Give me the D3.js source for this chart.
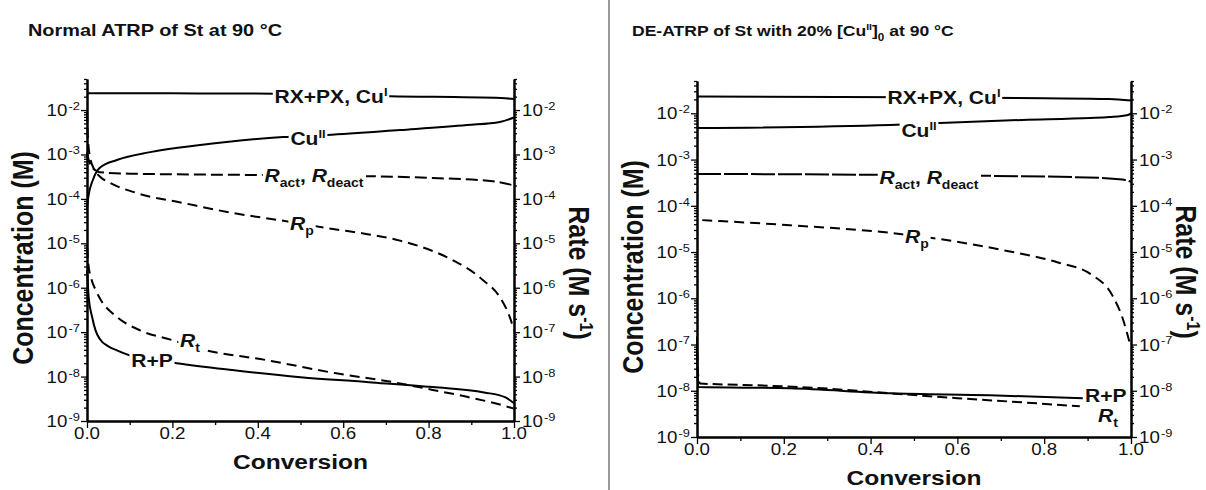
<!DOCTYPE html>
<html>
<head>
<meta charset="UTF-8">
<title>ATRP of St at 90 C</title>
<script src="https://cdn.jsdelivr.net/npm/d3@7"></script>
<style>
  body { margin: 0; background: #fff; }
  svg text { font-family: "Liberation Sans", Arial, sans-serif; fill: #111; }
</style>
</head>
<body>
<svg id="chart" width="1206" height="490"></svg>
<script>
// ---- data: [conversion, value] ----
const convTicks = [0, 0.2, 0.4, 0.6, 0.8, 1.0];
const convMinor = [0.1, 0.3, 0.5, 0.7, 0.9];
const decades = [-9, -8, -7, -6, -5, -4, -3, -2];

// normal ATRP
const normalRX = [[0, 0.024], [0.2, 0.0238], [0.44, 0.0234], [0.71, 0.0205], [0.97, 0.0187], [1.0, 0.0177]];
const normalCu2 = [[0, 6e-5], [0.003, 1.1e-4], [0.014, 2.7e-4], [0.03, 5.0e-4], [0.07, 7.5e-4], [0.148, 1.13e-3],
  [0.265, 1.63e-3], [0.459, 2.47e-3], [0.562, 2.74e-3], [0.733, 3.55e-3], [0.89, 4.6e-3], [0.967, 5.4e-3], [1.0, 6.8e-3]];
const normalRact = [[0, 1.1e-3], [0.004, 7.5e-4], [0.01, 5.5e-4], [0.02, 4.4e-4], [0.03, 4.0e-4], [0.1, 3.7e-4],
  [0.4, 3.45e-4], [0.64, 3.27e-4], [0.81, 2.95e-4], [0.95, 2.5e-4], [1.0, 2.0e-4]];
const normalRp = [[0.0003, 9e-3], [0.001, 4e-3], [0.003, 1.8e-3], [0.008, 8e-4], [0.016, 4.8e-4], [0.03, 3.2e-4],
  [0.054, 2.3e-4], [0.117, 1.35e-4], [0.225, 8.1e-5], [0.342, 4.8e-5], [0.452, 3.3e-5], [0.576, 2.1e-5],
  [0.65, 1.65e-5], [0.733, 1.15e-5], [0.78, 8.5e-6], [0.85, 4.5e-6], [0.927, 1.5e-6], [0.967, 6.1e-7],
  [0.99, 2.2e-7], [1.0, 1.1e-7]];
const normalRt = [[0.0005, 8e-6], [0.003, 3.5e-6], [0.01, 1.6e-6], [0.02, 9e-7], [0.03, 5.8e-7], [0.07, 2.2e-7],
  [0.124, 1.1e-7], [0.2, 6.6e-8], [0.27, 4.1e-8], [0.42, 2.35e-8], [0.58, 1.2e-8], [0.73, 7.1e-9],
  [0.81, 5.0e-9], [0.89, 3.5e-9], [0.97, 2.3e-9], [1.0, 1.9e-9]];
const normalRP = [[0.0005, 2.5e-6], [0.004, 6e-7], [0.012, 2.2e-7], [0.02, 1.1e-7], [0.03, 7e-8], [0.05, 4.8e-8],
  [0.07, 3.9e-8], [0.1, 3.0e-8], [0.21, 2.0e-8], [0.34, 1.4e-8], [0.5, 9.7e-9], [0.66, 7.5e-9],
  [0.81, 5.8e-9], [0.93, 4.4e-9], [0.98, 3.4e-9], [1.0, 2.5e-9]];

// DE-ATRP with 20% Cu(II)
const deRX = [[0, 0.023], [0.5, 0.0222], [0.8, 0.0212], [0.95, 0.0205], [1.0, 0.019]];
const deCu2 = [[0, 4.8e-3], [0.445, 5.6e-3], [0.56, 6.2e-3], [0.75, 7.2e-3], [0.906, 7.9e-3], [0.95, 8.3e-3],
  [0.993, 9.2e-3], [1.0, 1.0e-2]];
const deRact = [[0, 4.9e-4], [0.5, 4.6e-4], [0.9, 4.1e-4], [0.98, 3.7e-4], [1.0, 3.3e-4]];
const deRp = [[0.012, 4.9e-5], [0.214, 3.8e-5], [0.445, 2.6e-5], [0.56, 1.9e-5], [0.705, 1.1e-5], [0.83, 6.0e-6],
  [0.91, 3.2e-6], [0.956, 1.2e-6], [0.982, 3.4e-7], [0.998, 1.0e-7]];
const deRP = [[0, 1.0e-7], [0.001, 3e-8], [0.003, 1.2e-8], [0.214, 1.13e-8], [0.445, 8.8e-9], [0.675, 8.0e-9], [0.889, 6.9e-9]];
const deRt = [[0, 1.5e-7], [0.002, 2.5e-8], [0.007, 1.44e-8], [0.138, 1.31e-8], [0.29, 1.13e-8], [0.445, 8.8e-9],
  [0.6, 6.9e-9], [0.751, 5.6e-9], [0.882, 4.6e-9]];

const panels = [
  {
    title: [{t: 'Normal ATRP of St at 90 °C'}], tx: 28, tsize: 17,
    x0: 87, x1: 514, yTop: 79, yBot: 421, rateDx: 55, rateDy: 23,
    series: [
      {data: normalRX}, {data: normalCu2}, {data: normalRact, dash: '12,5'},
      {data: normalRp, dash: '10,6'}, {data: normalRt, dash: '10,6'}, {data: normalRP}
    ],
    labels: [
      {parts: [{t: 'RX+PX, Cu'}, {t: 'I', sup: 1}], x: 331, y: 103},
      {parts: [{t: 'Cu'}, {t: 'II', sup: 1}], x: 308, y: 145},
      {parts: [{t: 'R', it: 1}, {t: 'act', sub: 1}, {t: ', '}, {t: 'R', it: 1}, {t: 'deact', sub: 1}], x: 314, y: 182},
      {parts: [{t: 'R', it: 1}, {t: 'p', sub: 1}], x: 302, y: 230},
      {parts: [{t: 'R', it: 1}, {t: 't', sub: 1}], x: 190, y: 347},
      {parts: [{t: 'R+P'}], x: 152, y: 367}
    ]
  },
  {
    title: [{t: 'DE-ATRP of St with 20% [Cu'}, {t: 'II', sup: 1}, {t: ']'}, {t: '0', sub: 1}, {t: ' at 90 °C'}],
    tx: 632, tsize: 15,
    x0: 697, x1: 1131, yTop: 81, yBot: 437, rateDx: 45, rateDy: 13,
    series: [
      {data: deRX}, {data: deCu2}, {data: deRact, dash: '24,3'},
      {data: deRp, dash: '10,6'}, {data: deRP}, {data: deRt, dash: '10,5'}
    ],
    labels: [
      {parts: [{t: 'RX+PX, Cu'}, {t: 'I', sup: 1}], x: 944, y: 104},
      {parts: [{t: 'Cu'}, {t: 'II', sup: 1}], x: 919, y: 137},
      {parts: [{t: 'R', it: 1}, {t: 'act', sub: 1}, {t: ', '}, {t: 'R', it: 1}, {t: 'deact', sub: 1}], x: 929, y: 184},
      {parts: [{t: 'R', it: 1}, {t: 'p', sub: 1}], x: 917, y: 243},
      {parts: [{t: 'R+P'}], x: 1085, y: 402, anchor: 'start'},
      {parts: [{t: 'R', it: 1}, {t: 't', sub: 1}], x: 1108, y: 422}
    ]
  }
];

const SX = 1.17; // the picture is a little wider than tall
const svg = d3.select('#chart');

// text with super/subscripts, drawn inside a slightly stretched group
function richText(parent, parts, x, y, size, opts = {}) {
  const sx = opts.sx == null ? SX : opts.sx;
  const g = parent.append('g').attr('transform', `translate(${x},${y}) scale(${sx},1)`);
  const t = g.append('text')
    .attr('text-anchor', opts.anchor || 'middle')
    .style('font-size', size + 'px')
    .style('font-weight', opts.weight || 'bold');
  let shift = 0;
  parts.forEach(p => {
    let target = 0;
    const s = t.append('tspan').text(p.t);
    if (p.sup) { target = -size * 0.38; s.style('font-size', Math.round(size * (opts.supScale || 0.62)) + 'px'); }
    if (p.sub) { target = size * 0.3; s.style('font-size', Math.round(size * 0.65) + 'px'); }
    if (p.it) s.style('font-style', 'italic');
    if (p.dx) s.attr('dx', p.dx);
    if (target !== shift) s.attr('dy', target - shift);
    shift = target;
  });
  return g;
}

// divider between panels
svg.append('line')
  .attr('x1', 609).attr('x2', 609).attr('y1', 0).attr('y2', 490)
  .attr('stroke', '#9a9a9a').attr('stroke-width', 2);

panels.forEach(p => {
  const g = svg.append('g');
  const x = d3.scaleLinear().domain([0, 1]).range([p.x0, p.x1]);
  const y = d3.scaleLog().domain([1e-9, 5e-2]).range([p.yBot, p.yTop]);

  const majors = decades.map(e => Math.pow(10, e));
  const minors = [];
  for (let e = -9; e <= -2; e++) {
    for (let m = 2; m <= 9; m++) {
      const v = m * Math.pow(10, e);
      if (v <= 5e-2) minors.push(v);
    }
  }

  // title
  richText(g, p.title, p.tx, 36, p.tsize, {anchor: 'start'});

  // curves
  const line = d3.line()
    .x(d => x(d[0]))
    .y(d => y(d[1]))
    .curve(d3.curveMonotoneX);

  g.selectAll('path.curve')
    .data(p.series)
    .join('path')
    .attr('class', 'curve')
    .attr('d', d => line(d.data))
    .attr('fill', 'none')
    .attr('stroke', '#000')
    .attr('stroke-width', 2)
    .attr('stroke-dasharray', d => d.dash || null);

  // axes
  const axisStyle = sel => {
    sel.select('.domain').attr('stroke-width', 2).attr('stroke', '#000');
    sel.selectAll('.tick line').attr('stroke-width', 1.3).attr('stroke', '#000');
  };

  g.append('g').attr('transform', `translate(${p.x0},0)`)
    .call(d3.axisLeft(y).tickValues(minors).tickSize(3).tickSizeOuter(0).tickFormat(''))
    .call(axisStyle);
  g.append('g').attr('transform', `translate(${p.x0},0)`)
    .call(d3.axisLeft(y).tickValues(majors).tickSize(6).tickSizeOuter(0).tickFormat(''))
    .call(axisStyle);
  g.append('g').attr('transform', `translate(${p.x1},0)`)
    .call(d3.axisRight(y).tickValues(minors).tickSize(3).tickSizeOuter(0).tickFormat(''))
    .call(axisStyle);
  g.append('g').attr('transform', `translate(${p.x1},0)`)
    .call(d3.axisRight(y).tickValues(majors).tickSize(6).tickSizeOuter(0).tickFormat(''))
    .call(axisStyle);

  g.append('g').attr('transform', `translate(0,${p.yBot})`)
    .call(d3.axisBottom(x).tickValues(convMinor).tickSize(4).tickSizeOuter(0).tickFormat(''))
    .call(axisStyle);
  g.append('g').attr('transform', `translate(0,${p.yBot})`)
    .call(d3.axisBottom(x).tickValues(convTicks).tickSize(7).tickSizeOuter(0).tickFormat(''))
    .call(axisStyle);

  const fmt = d3.format('.1f');
  convTicks.forEach(c => {
    richText(g, [{t: fmt(c)}], x(c), p.yBot + 18, 16, {weight: 'normal'});
  });

  // decade labels, both sides
  decades.forEach(e => {
    const parts = [{t: '10'}, {t: String(e), sup: 1, dx: 1}];
    const yy = y(Math.pow(10, e)) + 6;
    richText(g, parts, p.x0 - 7, yy, 16, {anchor: 'end', weight: 'normal', supScale: 0.68});
    richText(g, parts, p.x1 + 8, yy, 16, {anchor: 'start', weight: 'normal', supScale: 0.68});
  });

  // axis titles
  const cy = (p.yTop + p.yBot) / 2;
  richText(g, [{t: 'Conversion'}], (p.x0 + p.x1) / 2, p.yBot + 48, 21);

  const lt = g.append('g')
    .attr('transform', `translate(${p.x0 - 54},${cy + 8}) scale(${SX},1) rotate(-90)`);
  richText(lt, [{t: 'Concentration (M)'}], 0, 0, 25, {sx: 1});

  const rt = g.append('g')
    .attr('transform', `translate(${p.x1 + p.rateDx},${cy + p.rateDy}) scale(${SX},1) rotate(90)`);
  richText(rt, [{t: 'Rate (M s'}, {t: '-1', sup: 1}, {t: ')'}], 0, 0, 25, {sx: 1});

  // curve labels with a white box that breaks the line
  p.labels.forEach(l => {
    const lg = richText(g, l.parts, l.x, l.y, 18, {anchor: l.anchor});
    const b = lg.select('text').node().getBBox();
    lg.insert('rect', 'text')
      .attr('x', b.x - 1.5).attr('y', b.y + 2)
      .attr('width', b.width + 3).attr('height', b.height - 4)
      .attr('fill', '#fff');
  });
});
</script>
</body>
</html>
